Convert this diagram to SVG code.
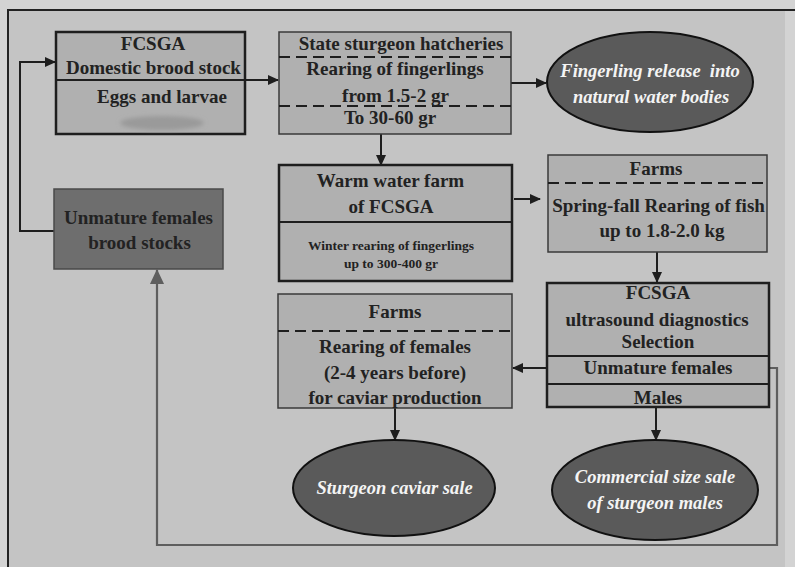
<svg xmlns="http://www.w3.org/2000/svg" width="795" height="567" viewBox="0 0 795 567">
<style>
.box{fill:#b0b0b0;stroke:#3a3a3a;stroke-width:1.5}
.boxb{fill:#b0b0b0;stroke:#1e1e1e;stroke-width:2.5}
.dark{fill:#6e6e6e;stroke:#4a4a4a;stroke-width:1.5}
.ell{fill:#5a5a5a;stroke:#111;stroke-width:2}
.div{stroke:#1e1e1e;stroke-width:2;fill:none}
.dash{stroke:#1e1e1e;stroke-width:2;stroke-dasharray:11 6;fill:none}
.t{font-family:"Liberation Serif","Times New Roman",serif;font-weight:bold;font-size:19px;fill:#222;text-anchor:middle}
.s{font-size:13.5px}
.w{font-family:"Liberation Serif","Times New Roman",serif;font-weight:bold;font-style:italic;font-size:18.5px;fill:#f4f4f4;text-anchor:middle}
.c{stroke:#1e1e1e;stroke-width:2;fill:none;marker-end:url(#ah)}
.g{stroke:#5e5e5e;stroke-width:2.2;fill:none;marker-end:url(#ahg)}
</style>
<defs>
<marker id="ah" markerUnits="userSpaceOnUse" markerWidth="11" markerHeight="10" refX="10" refY="5" orient="auto"><path d="M0,0 L11,5 L0,10 z" fill="#1e1e1e"/></marker>
<marker id="ahg" markerUnits="userSpaceOnUse" markerWidth="15" markerHeight="14" refX="14" refY="7" orient="auto"><path d="M0,0 L15,7 L0,14 z" fill="#5e5e5e"/></marker>
<filter id="bl" x="-20%" y="-50%" width="140%" height="200%"><feGaussianBlur stdDeviation="2"/></filter>
</defs>
<rect x="0" y="0" width="795" height="567" fill="#d3d3d3"/>
<rect x="8" y="10" width="777" height="560" fill="#c4c4c4"/>
<path d="M8,567 V10 H795" stroke="#222" stroke-width="2" fill="none"/>

<g id="connectors">
<line class="c" x1="245" y1="80" x2="278" y2="80"/>
<line class="c" x1="511" y1="83" x2="546" y2="83"/>
<line class="c" x1="381" y1="134" x2="381" y2="165"/>
<line class="c" x1="514" y1="199" x2="540" y2="199"/>
<line class="c" x1="657" y1="252" x2="657" y2="282"/>
<line class="c" x1="547" y1="368" x2="513" y2="368"/>
<line class="c" x1="395" y1="408" x2="395" y2="440"/>
<line class="c" x1="656" y1="407" x2="656" y2="440"/>
<path class="g" d="M769,368 H777 V545 H157 V270"/>
<path class="c" d="M54,231 H20 V62 H55"/>
</g>

<g id="n1">
<rect class="boxb" x="56" y="32" width="189" height="102"/>
<line class="div" x1="56" y1="80" x2="245" y2="80"/>
<text class="t" x="153" y="50">FCSGA</text>
<text class="t" x="153.5" y="74">Domestic brood stock</text>
<text class="t" x="162" y="103">Eggs and larvae</text>
<ellipse cx="162" cy="123" rx="42" ry="7" fill="#9a9a9a" filter="url(#bl)"/>
</g>

<g id="n2">
<rect class="box" x="279" y="32" width="232" height="102"/>
<line class="dash" x1="279" y1="57" x2="511" y2="57"/>
<line class="dash" x1="279" y1="106" x2="511" y2="106"/>
<text class="t" x="401" y="50">State sturgeon hatcheries</text>
<text class="t" x="395" y="75">Rearing of fingerlings</text>
<text class="t" x="395.5" y="102">from 1.5-2 gr</text>
<text class="t" x="390" y="124">To 30-60 gr</text>
</g>

<g id="n3">
<ellipse class="ell" cx="650" cy="82" rx="103" ry="50"/>
<text class="w" x="650" y="77">Fingerling release&#160; into</text>
<text class="w" x="651" y="103">natural water bodies</text>
</g>

<g id="n4">
<rect class="boxb" x="279" y="165" width="233" height="116"/>
<line class="div" x1="279" y1="222" x2="512" y2="222"/>
<text class="t" x="390.5" y="187">Warm water farm</text>
<text class="t" x="391" y="213">of FCSGA</text>
<text class="t s" x="391" y="250">Winter rearing of fingerlings</text>
<text class="t s" x="391" y="268">up to 300-400 gr</text>
</g>

<g id="n5">
<rect class="box" x="548" y="155" width="219" height="97"/>
<line class="dash" x1="548" y1="183" x2="767" y2="183"/>
<text class="t" x="656" y="175">Farms</text>
<text class="t" x="658.5" y="212">Spring-fall Rearing of fish</text>
<text class="t" x="662" y="237">up to 1.8-2.0 kg</text>
</g>

<g id="n6">
<rect class="boxb" x="547" y="283" width="222" height="124"/>
<line class="div" x1="547" y1="356" x2="769" y2="356"/>
<line class="div" x1="547" y1="384" x2="769" y2="384"/>
<text class="t" x="658" y="299">FCSGA</text>
<text class="t" x="657" y="326">ultrasound diagnostics</text>
<text class="t" x="658" y="348">Selection</text>
<text class="t" x="658" y="374">Unmature females</text>
<text class="t" x="658" y="404">Males</text>
</g>

<g id="n7">
<rect class="box" x="278" y="294" width="234" height="114"/>
<line class="dash" x1="278" y1="331" x2="512" y2="331"/>
<text class="t" x="395" y="318">Farms</text>
<text class="t" x="395" y="353">Rearing of females</text>
<text class="t" x="395" y="379">(2-4 years before)</text>
<text class="t" x="395" y="404">for caviar production</text>
</g>

<g id="n8">
<ellipse class="ell" cx="394" cy="488" rx="101" ry="48"/>
<text class="w" x="394.5" y="494">Sturgeon caviar sale</text>
</g>

<g id="n9">
<ellipse class="ell" cx="655" cy="490" rx="103" ry="50"/>
<text class="w" x="655" y="483">Commercial size sale</text>
<text class="w" x="655" y="509">of sturgeon males</text>
</g>

<g id="n10">
<rect class="dark" x="54" y="189" width="169" height="80"/>
<text class="t" x="138.5" y="224">Unmature females</text>
<text class="t" x="139.5" y="249">brood stocks</text>
</g>
</svg>
